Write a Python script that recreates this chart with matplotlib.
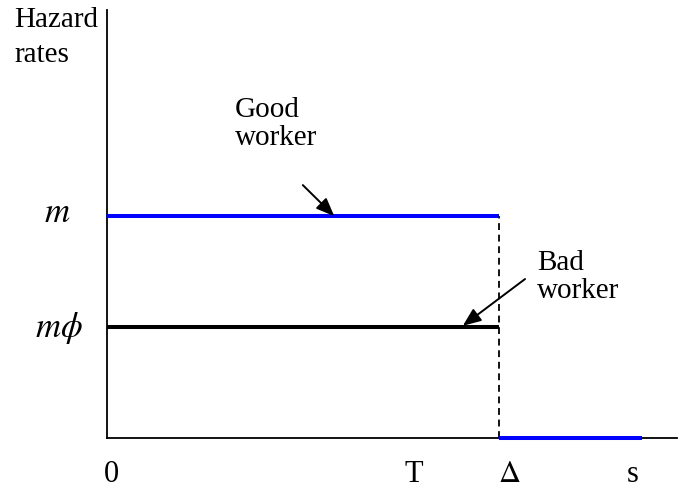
import numpy as np
import matplotlib.pyplot as plt

plt.rcParams['font.family'] = ['Liberation Serif', 'DejaVu Serif']
plt.rcParams['mathtext.fontset'] = 'stix'

# hazard levels (good worker m = 1, bad worker m*phi)
m_good = 1.0
m_bad = 0.5
delta = 1.0          # end of the hazard period
s_end = 1.364        # end of the zero-hazard segment
x_max = 1.453
y_max = 1.93

tick_pos = [0.012, 0.783, 1.025, 1.339]
tick_txt = ['0', 'T', r'$\Delta$', 's']

fig = plt.figure(figsize=(6.92, 4.90), dpi=100)
ax = fig.add_axes([106.5 / 692, 1 - 437.7 / 490, (677 - 106.5) / 692, (437.7 - 10) / 490])
ax.set_xlim(0, x_max)
ax.set_ylim(0, y_max)
for sp in ['top', 'right']:
    ax.spines[sp].set_visible(False)
for sp in ['left', 'bottom']:
    ax.spines[sp].set_linewidth(1.3)
    ax.spines[sp].set_color('black')
ax.set_xticks([])
ax.set_yticks([])

ax.plot([0, delta], [m_good, m_good], color='#0000ff', lw=2.9, solid_capstyle='butt', zorder=3)
ax.plot([0, delta], [m_bad, m_bad], color='black', lw=2.9, solid_capstyle='butt', zorder=3)
ax.plot([delta, s_end], [0, 0], color='#0000ff', lw=2.9, solid_capstyle='butt', zorder=3, clip_on=False)
ax.plot([delta, delta], [0, m_good], color='black', lw=1.3, ls=(0, (3.8, 2.6)))

arrow = dict(arrowstyle='-|>,head_length=1.1,head_width=0.45', color='black', lw=1.4,
             shrinkA=0, shrinkB=0)
ax.annotate('', xy=(0.58, 1.0), xytext=(0.5, 1.14), arrowprops=arrow)
ax.annotate('', xy=(0.9075, 0.505), xytext=(1.066, 0.716), arrowprops=arrow)

ax.text(0.327, 1.446, 'Good', ha='left', va='baseline', fontsize=21)
ax.text(0.327, 1.32, 'worker', ha='left', va='baseline', fontsize=21)
ax.text(1.097, 0.755, 'Bad', ha='left', va='baseline', fontsize=21)
ax.text(1.097, 0.630, 'worker', ha='left', va='baseline', fontsize=21)

ax.text(-0.093, 0.972, '$m$', ha='right', va='baseline', fontsize=25, clip_on=False)
ax.text(-0.06, 0.454, r'$m\phi$', ha='right', va='baseline', fontsize=25, clip_on=False)

for xp, t in zip(tick_pos, tick_txt):
    ax.text(xp, -0.2, t, ha='center', va='baseline', fontsize=22, clip_on=False)

fig.text(14 / 692, 1 - 27 / 490, 'Hazard', ha='left', va='baseline', fontsize=21)
fig.text(14 / 692, 1 - 62 / 490, 'rates', ha='left', va='baseline', fontsize=21)

fig.savefig('out.png', dpi=100)
